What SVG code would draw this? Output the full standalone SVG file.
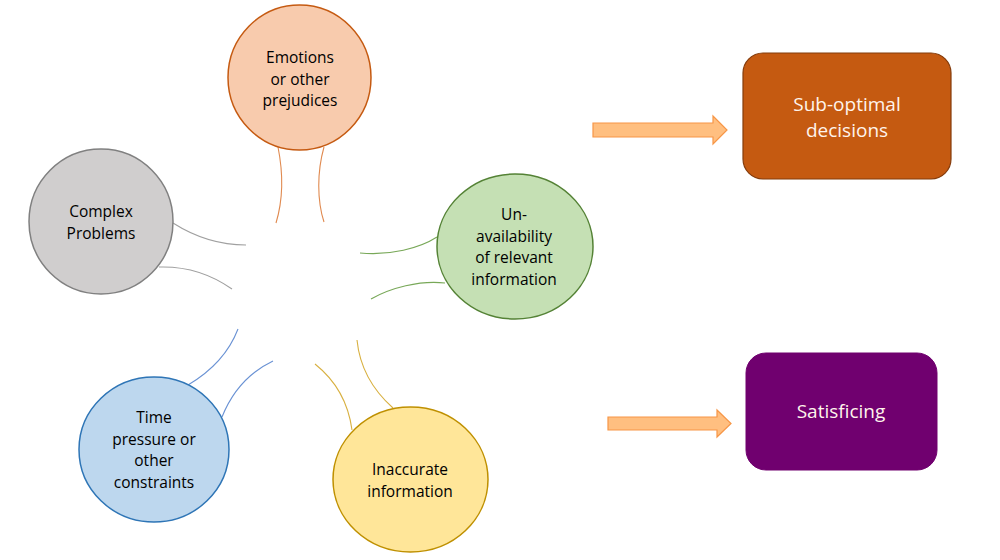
<svg xmlns="http://www.w3.org/2000/svg" width="1000" height="560" viewBox="0 0 1000 560">
<style>
.t{font-family:"Open Sans","Noto Sans","Liberation Sans",sans-serif;font-size:15.5px;fill:#000;text-anchor:middle}
.bt{font-family:"Open Sans","Noto Sans","Liberation Sans",sans-serif;font-size:19px;fill:#FFF4EC;text-anchor:middle}
.c{fill:none;stroke-width:1.1}
.arr{fill:#FFBF80;stroke:#F79646;stroke-width:1.2}
</style>
<rect width="1000" height="560" fill="#fff"/>
<g id="connectors">
<path class="c" stroke="#E08A50" d="M278,147 C283,172 283,200 276,223"/>
<path class="c" stroke="#E08A50" d="M324,147 C317,172 317,200 324,222"/>
<path class="c" stroke="#A0A0A0" d="M173,223 C195,237 220,245 246,245"/>
<path class="c" stroke="#A0A0A0" d="M159,267 C190,266 215,277 232,289"/>
<path class="c" stroke="#78A858" d="M360,253 C390,256 420,248 437,237"/>
<path class="c" stroke="#78A858" d="M371,299 C390,288 420,280 445,283"/>
<path class="c" stroke="#6A92D4" d="M238,329 C228,355 210,372 188,385"/>
<path class="c" stroke="#6A92D4" d="M273,361 C250,372 232,392 222,417"/>
<path class="c" stroke="#D8B040" d="M315,364 C335,380 348,400 352,430"/>
<path class="c" stroke="#D8B040" d="M357,340 C360,370 375,392 393,408"/>
<path class="arr" d="M593,123 L713,123 L713,116 L727,130 L713,144 L713,137 L593,137 Z"/>
<path class="arr" d="M608,417 L717,417 L717,410 L731,423.5 L717,437 L717,430 L608,430 Z"/>
</g>
<g id="emotions">
<ellipse cx="299.5" cy="77.5" rx="71.5" ry="72.5" fill="#F8CBAD" stroke="#C55A11" stroke-width="1.5"/>
<text class="t" x="300" y="63">Emotions</text>
<text class="t" x="300" y="84.5">or other</text>
<text class="t" x="300" y="106">prejudices</text>
</g>
<g id="complex">
<ellipse cx="101" cy="221.5" rx="72" ry="72.5" fill="#D0CECE" stroke="#808080" stroke-width="1.5"/>
<text class="t" x="101" y="217">Complex</text>
<text class="t" x="101" y="238.5">Problems</text>
</g>
<g id="unavailability">
<ellipse cx="515" cy="246.5" rx="78" ry="72.5" fill="#C5E0B4" stroke="#548235" stroke-width="1.5"/>
<text class="t" x="514" y="220">Un-</text>
<text class="t" x="514" y="241.5">availability</text>
<text class="t" x="514" y="263">of relevant</text>
<text class="t" x="514" y="284.5">information</text>
</g>
<g id="time">
<ellipse cx="154" cy="449.5" rx="75" ry="72.5" fill="#BDD7EE" stroke="#2E75B6" stroke-width="1.5"/>
<text class="t" x="154" y="423">Time</text>
<text class="t" x="154" y="444.5">pressure or</text>
<text class="t" x="154" y="466">other</text>
<text class="t" x="154" y="487.5">constraints</text>
</g>
<g id="inaccurate">
<ellipse cx="410.5" cy="479.5" rx="77.5" ry="72.5" fill="#FFE699" stroke="#BF9000" stroke-width="1.5"/>
<text class="t" x="410" y="475">Inaccurate</text>
<text class="t" x="410" y="496.5">information</text>
</g>
<g id="suboptimal">
<rect x="743" y="53" width="208" height="126" rx="20" fill="#C55A11" stroke="#843C0C" stroke-width="1.2"/>
<text class="bt" x="847" y="111">Sub-optimal</text>
<text class="bt" x="847" y="137">decisions</text>
</g>
<g id="satisficing">
<rect x="746" y="353" width="191" height="117" rx="20" fill="#70006F" stroke="#70006F" stroke-width="1"/>
<text class="bt" x="841" y="418">Satisficing</text>
</g>
</svg>
